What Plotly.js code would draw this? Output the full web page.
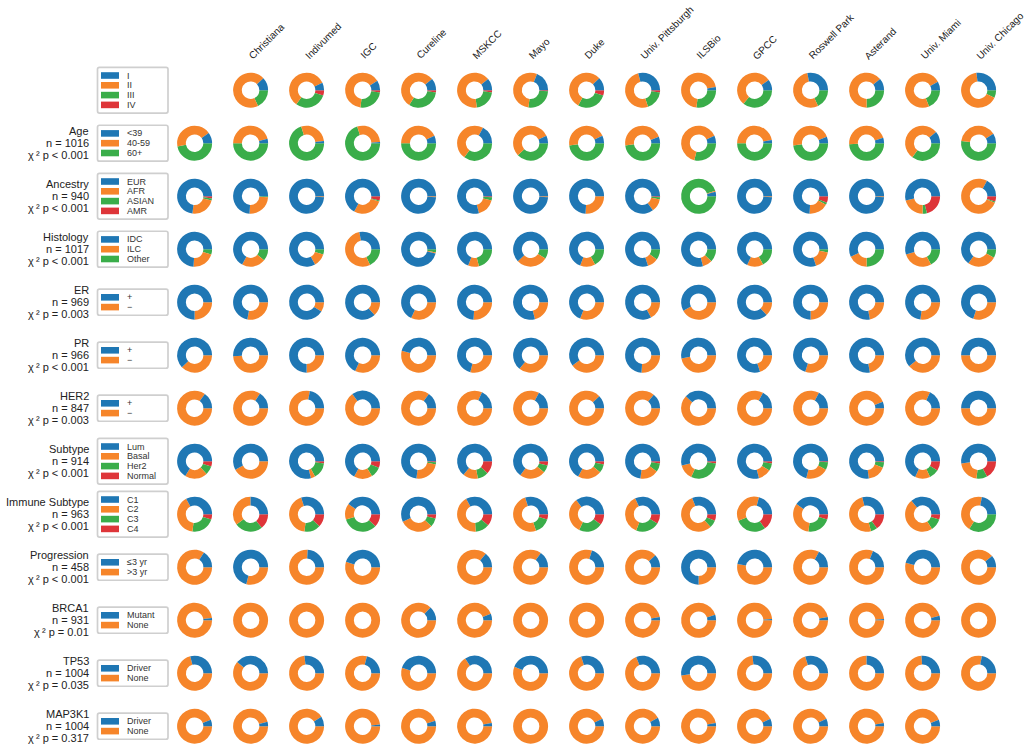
<!DOCTYPE html>
<html>
<head>
<meta charset="utf-8">
<script src="https://cdn.plot.ly/plotly-3.0.1.min.js"></script>
<style>html,body{margin:0;padding:0;background:#fff;}#chart{width:1035px;height:747px;}</style>
</head>
<body>
<div id="chart"></div>
<script>
// ---------------- DATA ----------------
const sites = ['Overall','Christiana','Indivumed','IGC','Cureline','MSKCC','Mayo','Duke','Univ. Pittsburgh','ILSBio','GPCC','Roswell Park','Asterand','Univ. Miami','Univ. Chicago'];

const stageLabels = ['I','II','III','IV'];
const stageValues = [null,[12,70,18,0],[7,58,30,5],[9,64,25,2],[11,55,32,2],[11,66,21,2],[19,54,26,1],[12,55,28,5],[29,51,18,2],[3,70,27,0],[10,54,36,0],[28,54,18,0],[11,64,25,0],[8,73,19,0],[27,66,7,0]];

const ageLabels = ['<39','40-59','60+'];
const ageValues = [[10,43,47],[4,46,50],[2,28,70],[1,29,70],[7,43,50],[17,48,35],[7,55,38],[7,45,48],[6,46,48],[7,64,29],[3,47,50],[6,46,48],[5,46,49],[11,54,35],[9,39,52]];

const ancestryLabels = ['EUR','AFR','ASIAN','AMR'];
const ancestryValues = [[73,23,2,2],[74,25,1,0],[99,1,0,0],[67,28,1,4],[99,1,0,0],[79,17,3,1],[99,1,0,0],[74,26,0,0],[85,12,2,1],[4,1,95,0],[99,1,0,0],[74,18,2,6],[99,1,0,0],[54,21,4,21],[17,77,1,5]];

const histologyLabels = ['IDC','ILC','Other'];
const histologyValues = [[74,21,5],[67,22,11],[83,12,5],[28,54,18],[96,1,3],[69,10,21],[62,29,9],[69,14,17],[80,10,10],[79,9,12],[68,15,17],[80,17,3],[57,18,25],[55,28,17],[65,27,8]];

const erLabels = ['+','\u2212'];
const erValues = [[75,25],[72,28],[91,9],[87,13],[68,32],[74,26],[79,21],[69,31],[83,17],[58,42],[87,13],[75,25],[78,22],[73,27],[70,30]];

const prLabels = ['+','\u2212'];
const prValues = [[62,38],[51,49],[75,25],[68,32],[46,54],[71,29],[64,36],[60,40],[74,26],[53,47],[80,20],[70,30],[78,22],[61,39],[50,50]];

const her2Labels = ['+','\u2212'];
const her2Values = [[15,85],[16,84],[22,78],[35,65],[15,85],[18,82],[17,83],[12,88],[14,86],[38,62],[17,83],[17,83],[6,94],[18,82],[50,50]];

const subtypeLabels = ['Lum','Basal','Her2','Normal'];
const subtypeValues = [[66,21,8,5],[58,42,0,0],[79,4,15,2],[67,17,10,6],[73,24,2,1],[64,14,10,12],[65,24,7,4],[67,22,8,3],[73,17,8,2],[54,14,30,2],[79,12,7,2],[71,21,7,1],[77,17,5,1],[68,14,9,9],[52,21,10,17]];

const immuneLabels = ['C1','C2','C3','C4'];
const immuneValues = [[33,40,22,5],[25,35,26,14],[30,43,15,12],[40,15,33,12],[57,31,8,4],[33,43,13,11],[30,50,15,5],[35,33,22,10],[32,37,22,9],[31,56,7,6],[21,35,29,15],[40,33,22,5],[29,50,6,15],[36,48,11,5],[22,44,34,0]];

const progressionLabels = ['\u22643 yr','>3 yr'];
const progressionValues = [[16,84],[71,29],[24,76],[45,55],null,[14,86],[15,85],[20,80],[12,88],[75,25],[47,53],[17,83],[19,81],[46,54],[11,89]];

const brca1Labels = ['Mutant','None'];
const brca1Values = [[2,98],[0,100],[0,100],[0,100],[13,87],[6,94],[0,100],[0,100],[3,97],[5,95],[1,99],[3,97],[1,99],[4,96],[0,100]];

const tp53Labels = ['Driver','None'];
const tp53Values = [[29,71],[39,61],[27,73],[21,79],[45,55],[34,66],[44,56],[30,70],[31,69],[52,48],[27,73],[30,70],[25,75],[26,74],[22,78]];

const map3k1Labels = ['Driver','None'];
const map3k1Values = [[6,94],[4,96],[9,91],[1.5,98.5],[5,95],[3,97],[0,100],[7,93],[8,92],[3,97],[7,93],[7,93],[3,97],[6,94],null];

const rowTitles = [null,'Age','Ancestry','Histology','ER','PR','HER2','Subtype','Immune Subtype','Progression','BRCA1','TP53','MAP3K1'];
const rowN = [null,1016,940,1017,969,966,847,914,963,458,931,1004,1004];
const rowP = [null,'p &lt; 0.001','p &lt; 0.001','p &lt; 0.001','p = 0.003','p &lt; 0.001','p = 0.003','p &lt; 0.001','p &lt; 0.001','p &lt; 0.001','p = 0.01','p = 0.035','p = 0.317'];

// ---------------- LAYOUT / BUILD ----------------
const W = 1035, H = 747;
const colX0 = 194.6, colDX = 56.0, rowY0 = 90.2, rowDY = 53.0, D = 35;
const palette = ['#1f77b4','#f6852a','#3aad4a','#de3539'];
const FONT = 'Liberation Sans, Arial, Helvetica, sans-serif';

const rowLabels = [stageLabels,ageLabels,ancestryLabels,histologyLabels,erLabels,prLabels,her2Labels,subtypeLabels,immuneLabels,progressionLabels,brca1Labels,tp53Labels,map3k1Labels];
const rowValues = [stageValues,ageValues,ancestryValues,histologyValues,erValues,prValues,her2Values,subtypeValues,immuneValues,progressionValues,brca1Values,tp53Values,map3k1Values];

const traces = [];
const shapes = [];
const annotations = [];

rowValues.forEach((vals, r) => {
  const cy = rowY0 + rowDY * r;
  vals.forEach((v, c) => {
    if (!v) return;
    const cx = colX0 + colDX * c;
    // first category starts at 3 o'clock and runs counterclockwise:
    // drawn clockwise from 3 o'clock in reversed category order
    const cols = palette.slice(0, v.length);
    traces.push({
      type: 'pie',
      values: v.slice().reverse(),
      labels: rowLabels[r].slice().reverse(),
      name: sites[c],
      sort: false,
      direction: 'clockwise',
      rotation: 90,
      hole: 0.5,
      textinfo: 'none',
      hoverinfo: 'label+percent+name',
      marker: {colors: cols.slice().reverse(), line: {width: 0}},
      domain: {x: [(cx - D/2)/W, (cx + D/2)/W], y: [1 - (cy + D/2)/H, 1 - (cy - D/2)/H]},
      showlegend: false
    });
  });

  // legend box
  const labs = rowLabels[r];
  const n = labs.length;
  const step = 9.8;
  const bh = n * step + 6.5;
  const x0 = 97.5, x1 = 168, y0 = cy - bh/2, y1 = cy + bh/2, rr = 2;
  shapes.push({
    type: 'path', xref: 'x', yref: 'y',
    path: `M ${x0+rr} ${y0} L ${x1-rr} ${y0} Q ${x1} ${y0} ${x1} ${y0+rr} L ${x1} ${y1-rr} Q ${x1} ${y1} ${x1-rr} ${y1} L ${x0+rr} ${y1} Q ${x0} ${y1} ${x0} ${y1-rr} L ${x0} ${y0+rr} Q ${x0} ${y0} ${x0+rr} ${y0} Z`,
    line: {color: '#cfcfcf', width: 1.7}, fillcolor: 'rgba(255,255,255,0.9)'
  });
  labs.forEach((lab, i) => {
    const ey = cy + (i - (n - 1)/2) * step;
    shapes.push({type: 'rect', xref: 'x', yref: 'y', x0: 101, x1: 119, y0: ey - 3.3, y1: ey + 3.3,
      fillcolor: palette[i], line: {width: 0}});
    annotations.push({xref: 'x', yref: 'y', x: 124.5, y: ey, xanchor: 'left', yanchor: 'middle',
      text: lab.replace('<','&lt;').replace('>','&gt;'), showarrow: false,
      font: {family: FONT, size: 9, color: '#333'}});
  });

  // row titles
  if (rowTitles[r]) {
    const f = {family: FONT, size: 11, color: '#222'};
    annotations.push({xref:'x', yref:'y', x: 91, y: cy - 12.5, xanchor:'right', yanchor:'middle', text: rowTitles[r], showarrow:false, font:f});
    annotations.push({xref:'x', yref:'y', x: 91, y: cy - 0.5, xanchor:'right', yanchor:'middle', text: 'n = ' + rowN[r], showarrow:false, font:f});
    annotations.push({xref:'x', yref:'y', x: 91, y: cy + 11.5, xanchor:'right', yanchor:'middle', text: '\u03c7\u2009\u00b2 ' + rowP[r], showarrow:false, font:f});
  }
});

// column headers
sites.forEach((s, c) => {
  if (c === 0) return;
  const cx = colX0 + colDX * c;
  annotations.push({xref:'x', yref:'y', x: cx - 7, y: 64, xanchor:'left', yanchor:'bottom',
    text: s, textangle: -45, showarrow:false, font:{family: FONT, size: 10, color:'#222'}});
});

const layout = {
  width: W, height: H,
  margin: {l:0, r:0, t:0, b:0},
  paper_bgcolor: '#fff', plot_bgcolor: '#fff',
  showlegend: false,
  xaxis: {range: [0, W], visible: false, fixedrange: true},
  yaxis: {range: [H, 0], visible: false, fixedrange: true},
  shapes: shapes,
  annotations: annotations,
  font: {family: FONT}
};

Plotly.newPlot('chart', traces, layout, {displayModeBar: false, staticPlot: true});
</script>
</body>
</html>
